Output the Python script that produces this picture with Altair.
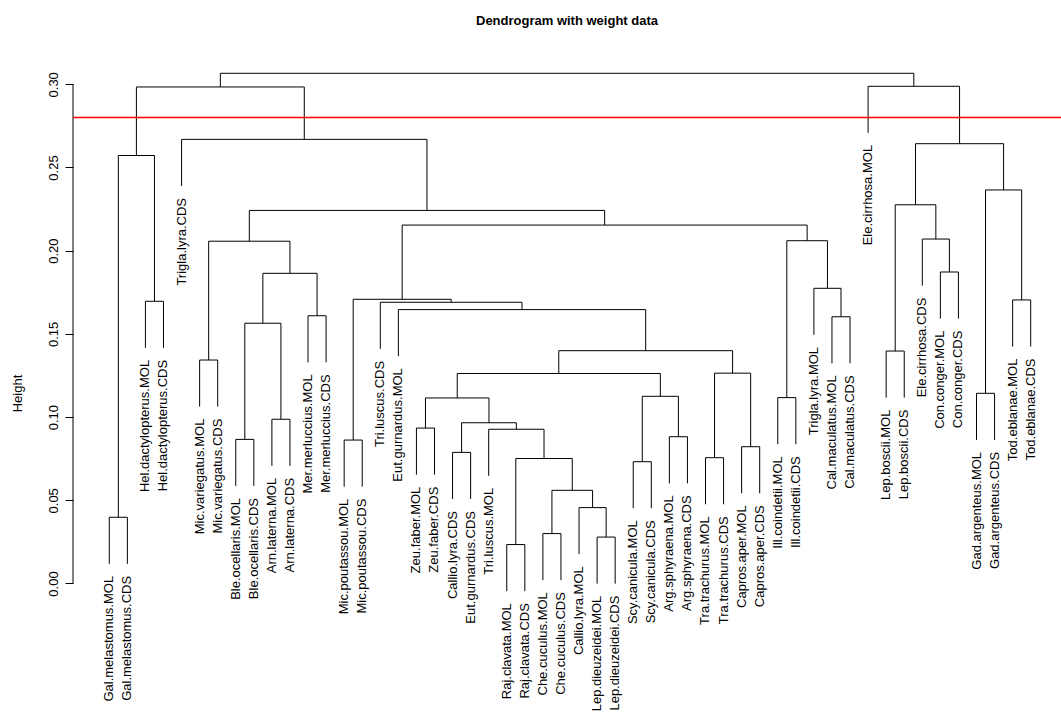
import altair as alt
import pandas as pd

# Leaf labels in dendrogram order (left to right)
LEAF_LABELS = [
    "Gal.melastomus.MOL", "Gal.melastomus.CDS", "Hel.dactylopterus.MOL", "Hel.dactylopterus.CDS",
    "Trigla.lyra.CDS", "Mic.variegatus.MOL", "Mic.variegatus.CDS", "Ble.ocellaris.MOL",
    "Ble.ocellaris.CDS", "Arn.laterna.MOL", "Arn.laterna.CDS", "Mer.merluccius.MOL",
    "Mer.merluccius.CDS", "Mic.poutassou.MOL", "Mic.poutassou.CDS", "Tri.luscus.CDS",
    "Eut.gurnardus.MOL", "Zeu.faber.MOL", "Zeu.faber.CDS", "Callio.lyra.CDS",
    "Eut.gurnardus.CDS", "Tri.luscus.MOL", "Raj.clavata.MOL", "Raj.clavata.CDS",
    "Che.cuculus.MOL", "Che.cuculus.CDS", "Callio.lyra.MOL", "Lep.dieuzeidei.MOL",
    "Lep.dieuzeidei.CDS", "Scy.canicula.MOL", "Scy.canicula.CDS", "Arg.sphyraena.MOL",
    "Arg.sphyraena.CDS", "Tra.trachurus.MOL", "Tra.trachurus.CDS", "Capros.aper.MOL",
    "Capros.aper.CDS", "Ill.coindetii.MOL", "Ill.coindetii.CDS", "Trigla.lyra.MOL",
    "Cal.maculatus.MOL", "Cal.maculatus.CDS", "Ele.cirrhosa.MOL", "Lep.boscii.MOL",
    "Lep.boscii.CDS", "Ele.cirrhosa.CDS", "Con.conger.MOL", "Con.conger.CDS",
    "Gad.argenteus.MOL", "Gad.argenteus.CDS", "Tod.eblanae.MOL", "Tod.eblanae.CDS",
]

# hclust-style merge table: negative = leaf (1-based), positive = earlier merge (1-based)
MERGE_A = [-1, -3, 1, -6, -8, -10, 5, -12, 7, 4,
           -14, -18, -20, -23, -25, -28, -27, 15, 14, -22,
           13, 12, -30, -32, 23, 22, -34, -36, 27, 26,
           -17, -16, 11, -38, -41, -40, 34, 33, 10, -5,
           3, -44, -47, -46, 42, -49, -51, 46, 45, -43,
           41]
MERGE_B = [-2, -4, 2, -7, -9, -11, 6, -13, 8, 9,
           -15, -19, -21, -24, -26, -29, 16, 17, 18, 19,
           20, 21, -31, -33, 24, 25, -35, -37, 28, 29,
           30, 31, 32, -39, -42, 35, 36, 37, 38, 39,
           40, -45, -48, 43, 44, -50, -52, 47, 48, 49,
           50]
MERGE_HEIGHT = [0.0398, 0.1696, 0.2572, 0.1343, 0.0866, 0.0987, 0.1564, 0.1609, 0.1864, 0.2057,
                0.0862, 0.0934, 0.0788, 0.0234, 0.0300, 0.0279, 0.0456, 0.0560, 0.0751, 0.0927,
                0.0966, 0.1115, 0.0732, 0.0882, 0.1125, 0.1262, 0.0756, 0.0822, 0.1264, 0.1399,
                0.1646, 0.1690, 0.1708, 0.1117, 0.1603, 0.1774, 0.2060, 0.2154, 0.2242, 0.2669,
                0.2984, 0.1397, 0.1872, 0.2070, 0.2276, 0.1143, 0.1704, 0.2365, 0.2643, 0.2988,
                0.3066]

CUT_HEIGHT = 0.28
Y_TICKS = [0.00, 0.05, 0.10, 0.15, 0.20, 0.25, 0.30]
HANG = 0.028  # how far leaves hang below their merge

FONT = "Liberation Sans"

# Build line segments and leaf label anchors from the merge table
node_x = []
seg_rows = []
label_rows = []
for k, (a, b, h) in enumerate(zip(MERGE_A, MERGE_B, MERGE_HEIGHT)):
    xs = []
    for c in (a, b):
        if c < 0:
            x = -c
            seg_rows.append({"x": x, "x2": x, "y": h - HANG, "y2": h})
            label_rows.append({"x": x, "y": h - HANG, "label": LEAF_LABELS[x - 1]})
        else:
            x = node_x[c - 1]
            seg_rows.append({"x": x, "x2": x, "y": MERGE_HEIGHT[c - 1], "y2": h})
        xs.append(x)
    seg_rows.append({"x": xs[0], "x2": xs[1], "y": h, "y2": h})
    node_x.append((xs[0] + xs[1]) / 2)

segments = pd.DataFrame(seg_rows)
labels = pd.DataFrame(label_rows)

x_scale = alt.Scale(domain=[-1.009, 53.677], zero=False, nice=False)
y_scale = alt.Scale(domain=[-0.00992, 0.3146], zero=False, nice=False)

y_axis = alt.Axis(
    values=Y_TICKS, format=".2f", domain=False, grid=False,
    tickSize=8, tickColor="black", tickWidth=1,
    labelAngle=270, labelAlign="center", labelBaseline="alphabetic", labelPadding=8,
    labelFont=FONT, labelFontSize=13, labelColor="black",
    title="Height", titleFont=FONT, titleFontSize=13, titleFontWeight="normal",
    titleColor="black", titleAngle=270, titleAlign="center", titleBaseline="middle",
    titleX=-56, titleY=333,
)

tree = alt.Chart(segments).mark_rule(color="black", strokeWidth=1).encode(
    x=alt.X("x:Q", scale=x_scale, axis=None),
    x2="x2:Q",
    y=alt.Y("y:Q", scale=y_scale, axis=y_axis),
    y2="y2:Q",
)

leaf_text = alt.Chart(labels).mark_text(
    angle=270, align="right", baseline="middle", dx=-12,
    font=FONT, fontSize=13, color="black",
).encode(
    x=alt.X("x:Q", scale=x_scale, axis=None),
    y=alt.Y("y:Q", scale=y_scale, axis=y_axis),
    text="label:N",
)

axis_line = alt.Chart(pd.DataFrame({"lo": [Y_TICKS[0]], "hi": [Y_TICKS[-1]]})).mark_rule(
    color="black", strokeWidth=1
).encode(
    x=alt.value(0),
    y=alt.Y("lo:Q", scale=y_scale, axis=y_axis),
    y2="hi:Q",
)

cut_line = alt.Chart(pd.DataFrame({"h": [CUT_HEIGHT]})).mark_rule(
    color="red", strokeWidth=1.5
).encode(
    y=alt.Y("h:Q", scale=y_scale, axis=y_axis),
)

chart = alt.layer(tree, leaf_text, axis_line, cut_line).properties(
    width=988,
    height=540,
    autosize="none",
    background="white",
    padding={"left": 73, "top": 60, "right": 0, "bottom": 117},
    title=alt.TitleParams(
        "Dendrogram with weight data", font=FONT, fontSize=13, fontWeight="bold",
        color="black", anchor="middle", offset=32,
    ),
).configure_view(strokeWidth=0)

chart.save("out.html", embed_options={"renderer": "svg", "actions": False})
